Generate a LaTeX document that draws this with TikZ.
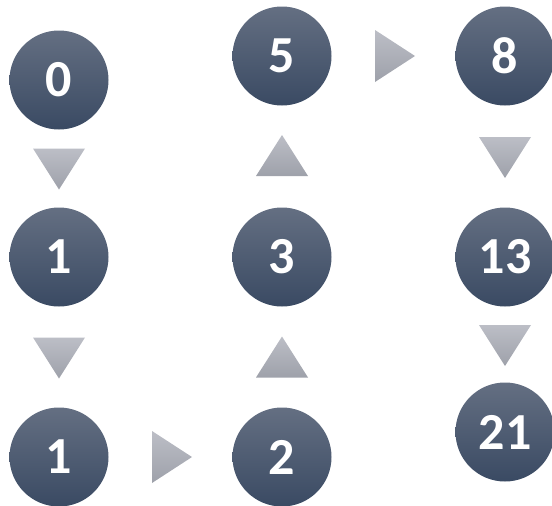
\documentclass[tikz,border=0pt]{standalone}
\usepackage{fontspec}
\setmainfont{Carlito}
\usetikzlibrary{calc}
\definecolor{ctop}{RGB}{100,111,130}
\definecolor{cbot}{RGB}{58,74,99}
\definecolor{ttop}{RGB}{188,190,198}
\definecolor{tbot}{RGB}{158,161,170}
\tikzset{
  numball/.style={circle, minimum size=99pt, inner sep=0pt, top color=ctop, bottom color=cbot,
    text=white, font=\fontsize{52}{52}\selectfont\bfseries},
  tri/.style={top color=ttop, bottom color=tbot, draw=none}
}
\begin{document}
\begin{tikzpicture}[x=1pt,y=-1pt]
\useasboundingbox (0,0) rectangle (552,506);
\node[numball] (c0)  at (59,80)   {0};
\node[numball] (c1a) at (59,257)  {1};
\node[numball] (c1b) at (59,457)  {1};
\node[numball] (c2)  at (282,457) {2};
\node[numball] (c3)  at (282,257) {3};
\node[numball] (c5)  at (282,56)  {5};
\node[numball] (c8)  at (505,56)  {8};
\node[numball] (c13) at (505,257) {13};
\node[numball] (c21) at (505,432) {21};
% down triangles
\coordinate (d1) at ($(c0)!0.5!(c1a)+(0,0.5)$);
\coordinate (d2) at ($(c1a)!0.5!(c1b)+(0,1)$);
\coordinate (d3) at ($(c8)!0.5!(c13)+(0,1)$);
\coordinate (d4) at ($(c13)!0.5!(c21)+(0,1)$);
\foreach \p in {d1,d2,d3,d4}{
  \shade[tri] (\p) ++(-26,-20.5) -- ++(52,0) -- ++(-26,41) -- cycle;
}
% up triangles
\coordinate (u1) at ($(c3)!0.5!(c5)+(0,-1)$);
\coordinate (u2) at ($(c2)!0.5!(c3)$);
\foreach \p in {u1,u2}{
  \shade[tri] (\p) ++(-26,20.5) -- ++(52,0) -- ++(-26,-41) -- cycle;
}
% right triangles
\coordinate (r1) at ($(c1b)!0.5!(c2)+(1.5,0)$);
\coordinate (r2) at ($(c5)!0.5!(c8)+(1.5,0)$);
\foreach \p in {r1,r2}{
  \shade[tri] (\p) ++(-20,-26) -- ++(40,26) -- ++(-40,26) -- cycle;
}
\end{tikzpicture}
\end{document}
